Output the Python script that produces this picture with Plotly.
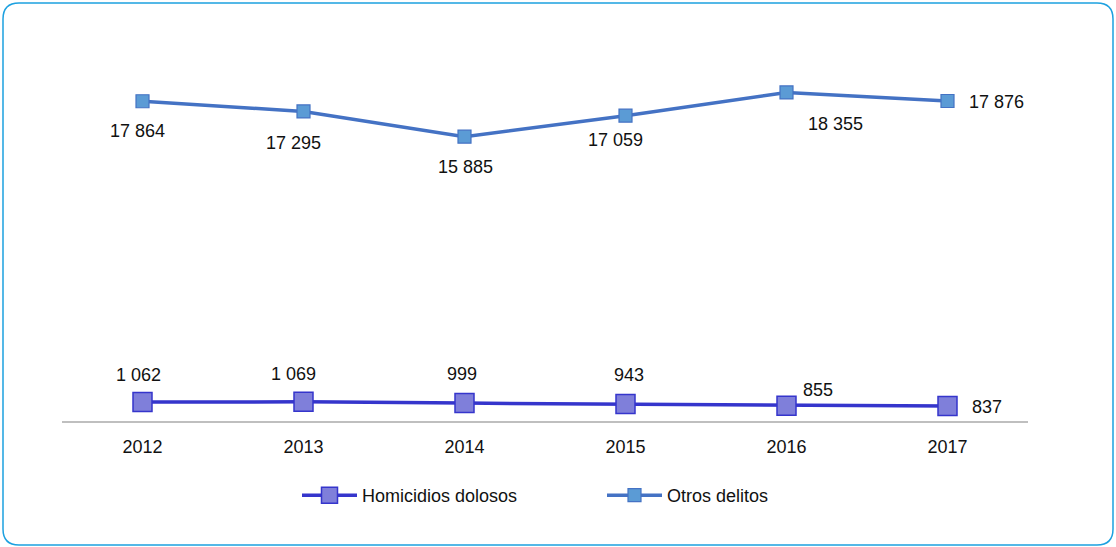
import plotly.graph_objects as go

years = ["2012", "2013", "2014", "2015", "2016", "2017"]
homicidios = [1062, 1069, 999, 943, 855, 837]
otros = [17864, 17295, 15885, 17059, 18355, 17876]

# label offsets in pixels (dx right, dy up) relative to each point
hom_dx = [-4, -10, -3, 3, 31, 39]
hom_dy = [28, 29, 30, 30, 17, 0]
otr_dx = [-5, -10, 1, -10, 49, 49]
otr_dy = [-29, -31, -29, -23, -31, 0]

def fmt(v):
    return f"{v:,}".replace(",", " ")

FONT = "Liberation Sans, Arial, sans-serif"
FS = 18

fig = go.Figure()
fig.add_trace(go.Scatter(
    x=years, y=homicidios, name="Homicidios dolosos",
    mode="lines+markers",
    line=dict(color="#3535CC", width=3.5),
    marker=dict(symbol="square", size=19, color="#7F7FDA",
                line=dict(color="#3535CC", width=1.5)),
))
fig.add_trace(go.Scatter(
    x=years, y=otros, name="Otros delitos",
    mode="lines+markers",
    line=dict(color="#4472C4", width=3.5),
    marker=dict(symbol="square", size=13, color="#5B9BD5",
                line=dict(color="#4472C4", width=1.2)),
))

annotations = []
for vals, dxs, dys in ((homicidios, hom_dx, hom_dy), (otros, otr_dx, otr_dy)):
    for i, (v, dx, dy) in enumerate(zip(vals, dxs, dys)):
        annotations.append(dict(
            x=i, y=v, xref="x", yref="y", text=fmt(v), showarrow=False,
            xanchor="center", yanchor="middle", xshift=dx, yshift=dy - 1,
            font=dict(size=FS, color="#111111", family=FONT),
        ))

W, H = 1116, 547
L, R, T, B = 62, 1028, 63, 421
pw, ph = R - L, B - T

def px(x):
    return (x - L) / pw

def py(y):
    return (B - y) / ph

x0, x1, y0, y1 = 3, 1113, 3, 545
r = 16
path = (
    f"M {px(x0 + r)},{py(y0)} L {px(x1 - r)},{py(y0)} "
    f"Q {px(x1)},{py(y0)} {px(x1)},{py(y0 + r)} "
    f"L {px(x1)},{py(y1 - r)} Q {px(x1)},{py(y1)} {px(x1 - r)},{py(y1)} "
    f"L {px(x0 + r)},{py(y1)} Q {px(x0)},{py(y1)} {px(x0)},{py(y1 - r)} "
    f"L {px(x0)},{py(y0 + r)} Q {px(x0)},{py(y0)} {px(x0 + r)},{py(y0)} Z"
)

fig.update_layout(
    width=W, height=H,
    margin=dict(l=L, r=W - R, t=T, b=H - B, pad=0),
    paper_bgcolor="white", plot_bgcolor="white",
    font=dict(family=FONT, size=FS, color="#111111"),
    showlegend=True,
    annotations=annotations,
    legend=dict(orientation="h", x=px(297), xanchor="left", y=py(477), yanchor="top",
                font=dict(size=FS, family=FONT), itemwidth=55, entrywidthmode="pixels",
                entrywidth=235),
    xaxis=dict(type="category", range=[-0.5, 5.5], showgrid=False, zeroline=False,
               showline=True, linecolor="#BFBFBF", linewidth=2, ticks="",
               tickfont=dict(size=FS, family=FONT), ticklabelstandoff=8),
    yaxis=dict(range=[0, 20000], visible=False, showgrid=False, zeroline=False),
    shapes=[dict(type="path", xref="paper", yref="paper", path=path,
                 line=dict(color="#1DA1E0", width=1.5), fillcolor="rgba(0,0,0,0)",
                 layer="below")],
)

fig.write_html("out.html", config={"displayModeBar": False},
               post_script="document.body.style.margin='0';")
